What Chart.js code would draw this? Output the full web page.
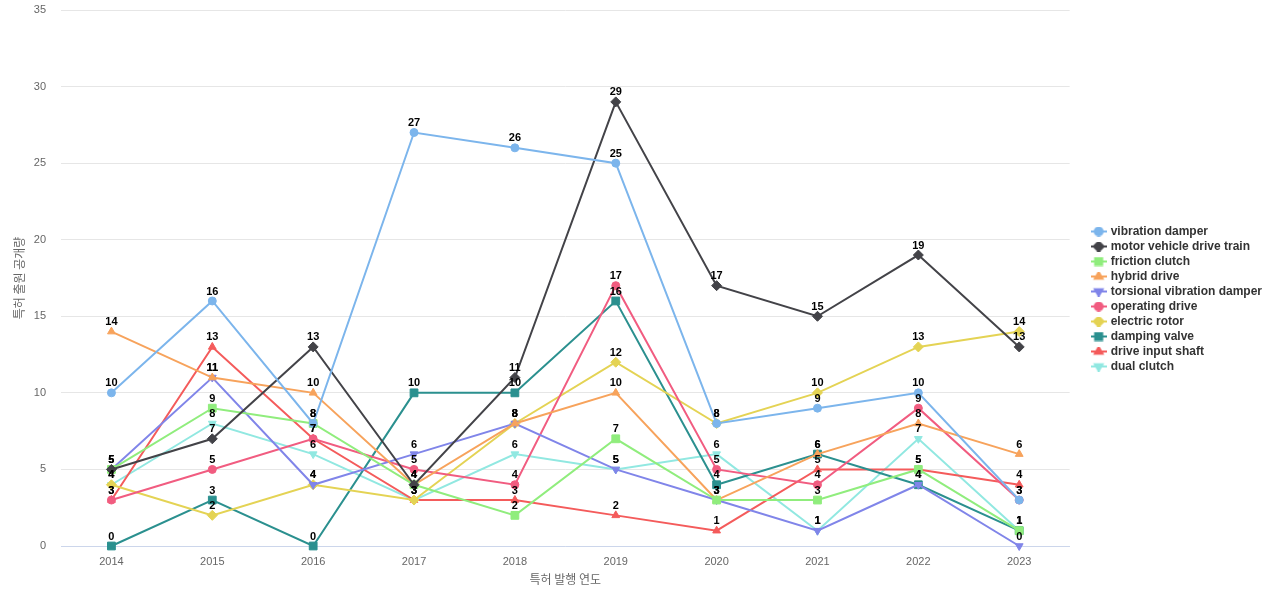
<!DOCTYPE html>
<html>
<head>
<meta charset="utf-8">
<script src="https://cdn.jsdelivr.net/npm/chart.js@4/dist/chart.umd.min.js"></script>
<style>
  html, body { margin: 0; padding: 0; background: #fff; }
  #wrap { width: 1280px; height: 600px; position: relative; }
</style>
</head>
<body>
<div id="wrap"><canvas id="patChart"></canvas></div>
<script>
// ---- DATA ----
var years = ['2014','2015','2016','2017','2018','2019','2020','2021','2022','2023'];
var seriesNames = ['vibration damper','motor vehicle drive train','friction clutch','hybrid drive',
  'torsional vibration damper','operating drive','electric rotor','damping valve','drive input shaft','dual clutch'];
var vibrationDamper   = [10, 16, 8, 27, 26, 25, 8, 9, 10, 3];
var driveTrain        = [5, 7, 13, 4, 11, 29, 17, 15, 19, 13];
var frictionClutch    = [5, 9, 8, 4, 2, 7, 3, 3, 5, 1];
var hybridDrive       = [14, 11, 10, 4, 8, 10, 3, 6, 8, 6];
var torsionalDamper   = [5, 11, 4, 6, 8, 5, 3, 1, 4, 0];
var operatingDrive    = [3, 5, 7, 5, 4, 17, 5, 4, 9, 3];
var electricRotor     = [4, 2, 4, 3, 8, 12, 8, 10, 13, 14];
var dampingValve      = [0, 3, 0, 10, 10, 16, 4, 6, 4, 1];
var driveInputShaft   = [3, 13, 7, 3, 3, 2, 1, 5, 5, 4];
var dualClutch        = [4, 8, 6, 3, 6, 5, 6, 1, 7, 1];
var yTicks = [0, 5, 10, 15, 20, 25, 30, 35];

var allValues = [vibrationDamper, driveTrain, frictionClutch, hybridDrive, torsionalDamper,
  operatingDrive, electricRotor, dampingValve, driveInputShaft, dualClutch];

// ---- STYLE ----
var colors = ['#7cb5ec','#434348','#90ed7d','#f7a35c','#8085e9','#f15c80','#e4d354','#2b908f','#f45b5b','#91e8e1'];
var shapes = ['circle','rectRot','rect','triangle','triangle','circle','rectRot','rect','triangle','triangle'];
var rots   = [0, 0, 0, 0, 180, 0, 0, 0, 0, 180];
var radii  = [4, 5, 5.5, 4.5, 4.5, 4, 5, 5.5, 4.5, 4.5];

// legend icon: short line with marker in the middle
function legendIcon(i) {
  var c = document.createElement('canvas');
  c.width = 16; c.height = 10;
  var x = c.getContext('2d');
  x.strokeStyle = colors[i];
  x.lineWidth = 2;
  x.beginPath(); x.moveTo(0, 5); x.lineTo(16, 5); x.stroke();
  x.fillStyle = colors[i];
  Chart.helpers.drawPoint(x, { pointStyle: shapes[i], rotation: rots[i], radius: Math.min(radii[i], 5), borderWidth: 1 }, 8, 5);
  return c;
}

var datasets = allValues.map(function (vals, i) {
  return {
    label: seriesNames[i],
    data: vals,
    borderColor: colors[i],
    backgroundColor: colors[i],
    borderWidth: 2,
    pointStyle: shapes[i],
    pointRotation: rots[i],
    pointRadius: radii[i],
    pointHoverRadius: radii[i],
    pointBorderWidth: 1,
    tension: 0,
    fill: false,
    clip: false
  };
});

// value labels above every point
var valueLabels = {
  id: 'valueLabels',
  afterDatasetsDraw: function (chart) {
    var ctx = chart.ctx;
    ctx.save();
    ctx.font = 'bold 11px "Liberation Sans", Arial, sans-serif';
    ctx.fillStyle = '#000';
    ctx.textAlign = 'center';
    ctx.textBaseline = 'bottom';
    chart.data.datasets.forEach(function (ds, di) {
      chart.getDatasetMeta(di).data.forEach(function (pt, k) {
        ctx.fillText(String(ds.data[k]), pt.x, pt.y - 4);
      });
    });
    ctx.restore();
  }
};

// leave a gap between plot and legend
var legendGap = {
  id: 'legendGap',
  beforeLayout: function (chart) {
    var lg = chart.legend;
    if (lg && !lg._gapPatched) {
      var fit = lg.fit;
      lg.fit = function () { fit.call(this); this.width += 20; };
      lg._gapPatched = true;
    }
  },
  afterLayout: function (chart) {
    var lg = chart.legend;
    if (lg) { lg.left += 20; lg.right += 20; lg.top += 2; lg.bottom += 2; }
  }
};

Chart.defaults.font.family = '"Liberation Sans", Arial, sans-serif';

new Chart(document.getElementById('patChart'), {
  type: 'line',
  data: { labels: years, datasets: datasets },
  plugins: [valueLabels, legendGap],
  options: {
    responsive: true,
    maintainAspectRatio: false,
    animation: false,
    layout: { padding: { top: 0, right: 8, bottom: 6, left: 6 } },
    plugins: {
      tooltip: { enabled: false },
      legend: {
        position: 'right',
        align: 'center',
        labels: {
          usePointStyle: true,
          boxWidth: 16,
          boxHeight: 10,
          padding: 3,
          color: '#333',
          font: { size: 12, weight: 'bold' },
          generateLabels: function (chart) {
            return chart.data.datasets.map(function (ds, i) {
              return {
                text: ds.label,
                pointStyle: legendIcon(i),
                fillStyle: colors[i],
                strokeStyle: colors[i],
                lineWidth: 0,
                datasetIndex: i,
                hidden: false,
                fontColor: '#333'
              };
            });
          }
        }
      }
    },
    scales: {
      x: {
        offset: true,
        afterFit: function (scale) { scale.height = 48; },
        grid: { display: false, drawTicks: false },
        border: { color: '#ccd6eb', width: 1 },
        ticks: { color: '#666', font: { size: 11 }, padding: 9 },
        title: { display: true, text: '특허 발행 연도', color: '#666', font: { size: 12, family: '"Noto Sans CJK KR", sans-serif' }, padding: { top: 0, bottom: 7 } }
      },
      y: {
        min: 0, max: 35,
        afterFit: function (scale) { scale.width = 55; scale.paddingTop = 10; },
        afterBuildTicks: function (axis) { axis.ticks = yTicks.map(function (v) { return { value: v }; }); },
        grid: { color: '#e6e6e6', drawTicks: false },
        border: { display: false },
        ticks: { color: '#666', font: { size: 11 }, padding: 15 },
        title: { display: true, text: '특허 출원 공개량', color: '#666', font: { size: 12, family: '"Noto Sans CJK KR", sans-serif' }, padding: { top: 6, bottom: 0 } }
      }
    }
  }
});
</script>
</body>
</html>
